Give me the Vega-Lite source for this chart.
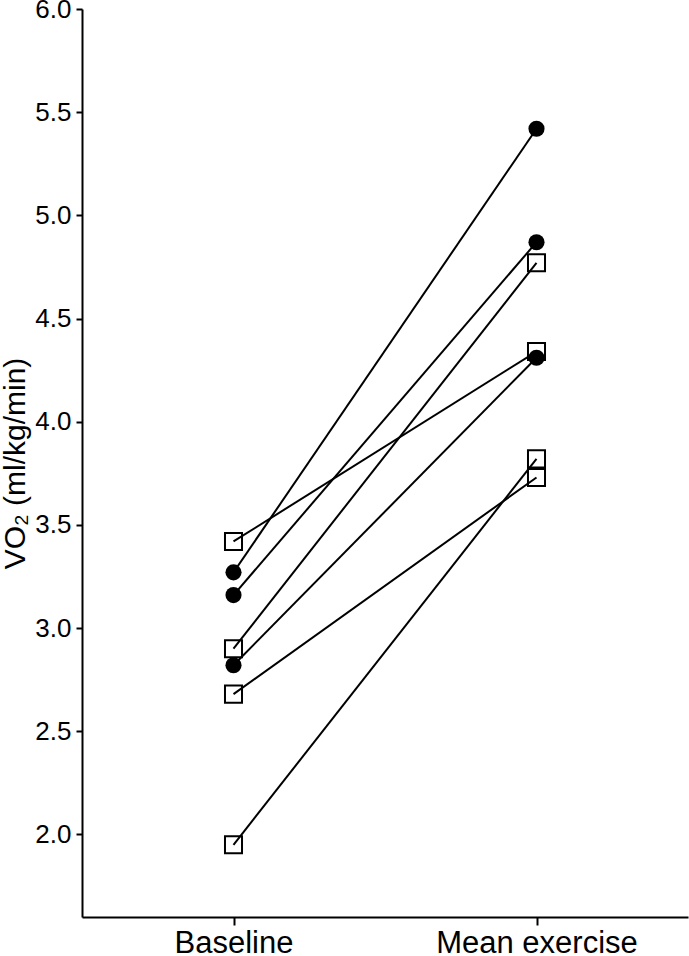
{
  "$schema": "https://vega.github.io/schema/vega-lite/v6.json",
  "width": 606,
  "height": 908,
  "autosize": {"type": "none"},
  "padding": {"left": 82, "top": 9, "right": 1, "bottom": 39},
  "background": "white",
  "config": {
    "view": {"stroke": null},
    "font": "Liberation Sans",
    "axis": {
      "grid": false,
      "domainColor": "black",
      "domainWidth": 2,
      "tickColor": "black",
      "tickWidth": 2,
      "labelColor": "black",
      "titleColor": "black",
      "labelFont": "Liberation Sans",
      "titleFont": "Liberation Sans",
      "titleFontWeight": "normal"
    }
  },
  "data": {
    "values": [
      {"id": "A", "group": "circle", "time": "Baseline", "vo2": 3.27},
      {"id": "A", "group": "circle", "time": "Mean exercise", "vo2": 5.42},
      {"id": "B", "group": "circle", "time": "Baseline", "vo2": 3.16},
      {"id": "B", "group": "circle", "time": "Mean exercise", "vo2": 4.87},
      {"id": "C", "group": "circle", "time": "Baseline", "vo2": 2.82},
      {"id": "C", "group": "circle", "time": "Mean exercise", "vo2": 4.31},
      {"id": "D", "group": "square", "time": "Baseline", "vo2": 3.42},
      {"id": "D", "group": "square", "time": "Mean exercise", "vo2": 4.34},
      {"id": "E", "group": "square", "time": "Baseline", "vo2": 2.9},
      {"id": "E", "group": "square", "time": "Mean exercise", "vo2": 4.77},
      {"id": "F", "group": "square", "time": "Baseline", "vo2": 2.68},
      {"id": "F", "group": "square", "time": "Mean exercise", "vo2": 3.73},
      {"id": "G", "group": "square", "time": "Baseline", "vo2": 1.95},
      {"id": "G", "group": "square", "time": "Mean exercise", "vo2": 3.82}
    ]
  },
  "encoding": {
    "x": {
      "field": "time",
      "type": "nominal",
      "sort": ["Baseline", "Mean exercise"],
      "scale": {"type": "point", "padding": 0.5},
      "axis": {
        "title": null,
        "labelAngle": 0,
        "labelFontSize": 31,
        "labelLimit": 0,
        "tickSize": 8,
        "labelPadding": 3
      }
    },
    "y": {
      "field": "vo2",
      "type": "quantitative",
      "scale": {"domain": [1.6, 6.0], "nice": false, "zero": false},
      "axis": {
        "title": "VO₂ (ml/kg/min)",
        "values": [2.0, 2.5, 3.0, 3.5, 4.0, 4.5, 5.0, 5.5, 6.0],
        "format": ".1f",
        "labelFontSize": 26,
        "titleFontSize": 30,
        "tickSize": 6,
        "labelPadding": 5,
        "titlePadding": 4
      }
    }
  },
  "layer": [
    {
      "mark": {"type": "line", "color": "black", "strokeWidth": 2},
      "encoding": {"detail": {"field": "id"}}
    },
    {
      "transform": [{"filter": "datum.group === 'circle'"}],
      "mark": {"type": "point", "shape": "circle", "filled": true, "color": "black", "opacity": 1, "size": 260}
    },
    {
      "transform": [{"filter": "datum.group === 'square'"}],
      "mark": {"type": "point", "shape": "square", "filled": false, "color": "black", "opacity": 1, "strokeWidth": 2, "size": 290}
    }
  ]
}
